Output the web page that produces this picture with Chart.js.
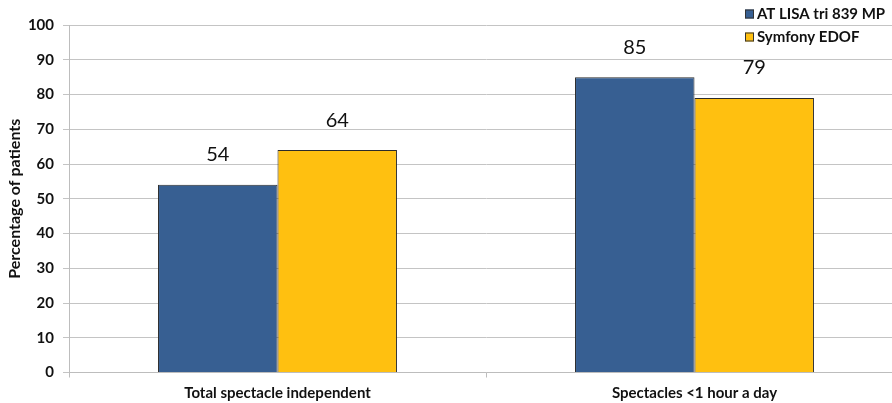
<!DOCTYPE html>
<html>
<head>
<meta charset="utf-8">
<script src="https://cdn.jsdelivr.net/npm/chart.js@4/dist/chart.umd.min.js"></script>
<style>
html,body{margin:0;padding:0;overflow:hidden;background:#fff;width:892px;height:403px;}
#wrap{width:910px;height:403px;}
</style>
</head>
<body>
<div id="wrap"><canvas id="c" width="910" height="403"></canvas></div>
<script>
const categories = ["Total spectacle independent", "Spectacles <1 hour a day"];
const seriesNames = ["AT LISA tri 839 MP", "Symfony EDOF"];
const atLisaValues = [54, 85];
const symfonyValues = [64, 79];
const yTicks = [0, 10, 20, 30, 40, 50, 60, 70, 80, 90, 100];

const FONT = "Lato, 'Open Sans', sans-serif";

const valueLabels = {
  id: 'valueLabels',
  afterDatasetsDraw(chart) {
    const ctx = chart.ctx;
    ctx.save();
    ctx.font = "20px " + FONT;
    ctx.fillStyle = "#111";
    ctx.textAlign = "center";
    ctx.textBaseline = "middle";
    chart.data.datasets.forEach((ds, i) => {
      chart.getDatasetMeta(i).data.forEach((bar, j) => {
        ctx.fillText(String(ds.data[j]), bar.x, bar.y - 30);
      });
    });
    ctx.restore();
  }
};

const customLegend = {
  id: 'customLegend',
  afterDraw(chart) {
    const ctx = chart.ctx;
    ctx.save();
    ctx.font = "bold 15px " + FONT;
    ctx.textBaseline = "middle";
    ctx.textAlign = "left";
    const x0 = 745, ys = [14, 37];
    chart.data.datasets.forEach((ds, i) => {
      const y = ys[i];
      ctx.fillStyle = ds.backgroundColor;
      ctx.fillRect(x0, y - 4.5, 9, 9);
      ctx.strokeStyle = "#333";
      ctx.lineWidth = 1;
      ctx.strokeRect(x0 + 0.5, y - 4, 8, 8);
      ctx.fillStyle = "#111";
      ctx.fillText(ds.label, x0 + 12, y);
    });
    ctx.restore();
  }
};

new Chart(document.getElementById('c'), {
  type: 'bar',
  data: {
    labels: categories,
    datasets: [
      { label: seriesNames[0], data: atLisaValues, backgroundColor: "#375F92", borderColor: "#2b2b2b", borderWidth: 1 },
      { label: seriesNames[1], data: symfonyValues, backgroundColor: "#FFC010", borderColor: "#2b2b2b", borderWidth: 1 }
    ]
  },
  options: {
    responsive: false,
    animation: false,
    devicePixelRatio: 1,
    layout: { padding: { left: 0, right: 7, top: 25, bottom: 0 } },
    datasets: { bar: { categoryPercentage: 0.573, barPercentage: 1.0 } },
    plugins: {
      legend: { display: false },
      tooltip: { enabled: false }
    },
    scales: {
      x: {
        offset: true,
        grid: { display: true, drawOnChartArea: false, drawTicks: true, tickLength: 5, color: "#bdbdbd", offset: true },
        border: { display: true, color: "#bdbdbd", width: 1 },
        ticks: { color: "#111", font: { family: FONT, size: 15, weight: "bold" }, padding: 7, maxRotation: 0 },
        afterFit(scale) { scale.height = 30.5; }
      },
      y: {
        min: 0, max: 100,
        afterBuildTicks(scale) { scale.ticks = yTicks.map(v => ({ value: v })); },
        grid: { color: "#c4c4c4", lineWidth: 1, drawTicks: true, tickLength: 6 },
        border: { display: true, color: "#bdbdbd", width: 1 },
        ticks: { color: "#111", font: { family: FONT, size: 15, weight: "bold" }, padding: 9 },
        title: { display: true, text: "Percentage of patients", color: "#111", font: { family: FONT, size: 16, weight: "bold" }, padding: { top: 5, bottom: 0 } },
        afterFit(scale) { scale.width = 69; }
      }
    }
  },
  plugins: [valueLabels, customLegend]
});
</script>
</body>
</html>
